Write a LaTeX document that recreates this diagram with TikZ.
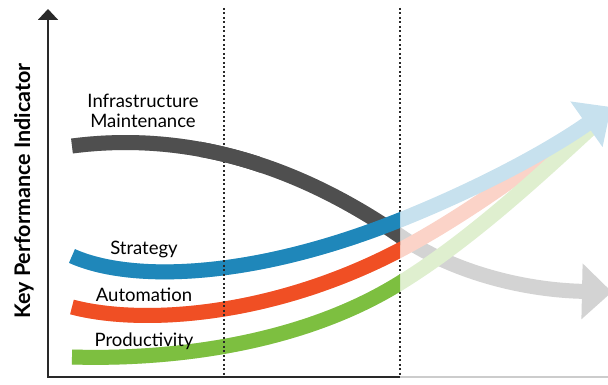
\documentclass[tikz,border=0pt]{standalone}
\usepackage{fontspec}
\setmainfont{Lato}
\usetikzlibrary{arrows.meta}
\definecolor{InfraClr}{rgb}{0.31,0.31,0.31}
\definecolor{StrategyClr}{rgb}{0.12,0.53,0.73}
\definecolor{AutoClr}{rgb}{0.94,0.31,0.14}
\definecolor{ProdClr}{rgb}{0.49,0.75,0.25}
\definecolor{AxisClr}{rgb}{0.16,0.16,0.16}

\begin{document}
\begin{tikzpicture}[x=1pt,y=-1pt,
  band/.style={line width=15pt},
  bigtip/.style={-{Triangle[length=30pt,width=54pt]}},
  dotline/.style={AxisClr,line width=2pt,dash pattern=on 2pt off 2.5pt},
  tag/.style={font=\fontsize{18.5}{20.5}\selectfont,align=center,inner sep=0pt}]

\clip (0,0) rectangle (608,385);

\coordinate (O) at (48,377);
\coordinate (Ytop) at (48,9);
\coordinate (Xmid) at (400,377);
\coordinate (Xend) at (608,377);
\coordinate (D1top) at (224,8);
\coordinate (D1bot) at (224,377);
\coordinate (D2top) at (400,8);

\draw[dotline] (D2top) -- (Xmid);

\draw[band,InfraClr!25,bigtip] (72,146) .. controls (180,132) and (290,160) .. (400,236) .. controls (450,270.5) and (520,290) .. (612,292);
\draw[band,AutoClr!25] (72,307) .. controls (140,325) and (270,318) .. (400,250) .. controls (470,213) and (540,160) .. (588,124);
\draw[band,ProdClr!25] (72,357) .. controls (170,360) and (300,345) .. (400,283) .. controls (470,240) and (540,175) .. (592,127);
\draw[band,StrategyClr!25,bigtip] (72,256) .. controls (130,282) and (250,280) .. (400,220) .. controls (480,188) and (550,150) .. (611,107);

\begin{scope}
\clip (0,0) rectangle (400,385);
\draw[band,InfraClr] (72,146) .. controls (180,132) and (290,160) .. (400,236) .. controls (450,270.5) and (520,290) .. (612,292);
\draw[band,AutoClr] (72,307) .. controls (140,325) and (270,318) .. (400,250) .. controls (470,213) and (540,160) .. (588,124);
\draw[band,ProdClr] (72,357) .. controls (170,360) and (300,345) .. (400,283) .. controls (470,240) and (540,175) .. (592,127);
\draw[band,StrategyClr] (72,256) .. controls (130,282) and (250,280) .. (400,220) .. controls (480,188) and (550,150) .. (611,107);
\end{scope}

\draw[dotline] (D1top) -- (D1bot);
\begin{scope}
\clip (200,0) rectangle (260,200);
\draw[band,InfraClr] (72,146) .. controls (180,132) and (290,160) .. (400,236);
\end{scope}

\draw[line width=2pt,gray!40] (Xmid) -- (Xend);
\draw[line width=2pt,AxisClr,-{Triangle[length=11pt,width=20pt]}] (Xmid) -- (O) -- (Ytop);

\node[tag] (infra) at (143,111) {Infrastructure\\Maintenance};
\node[tag,anchor=base] (strategy) at (144,254) {Strategy};
\node[tag,anchor=base] (auto) at (144,301) {Automation};
\node[tag,anchor=base] (prod) at (144,346) {Productivity};
\node[rotate=90,anchor=base,inner sep=0pt,font=\bfseries\fontsize{21.5}{24}\selectfont] (kpi) at (30,191) {Key Performance Indicator};

\end{tikzpicture}
\end{document}
